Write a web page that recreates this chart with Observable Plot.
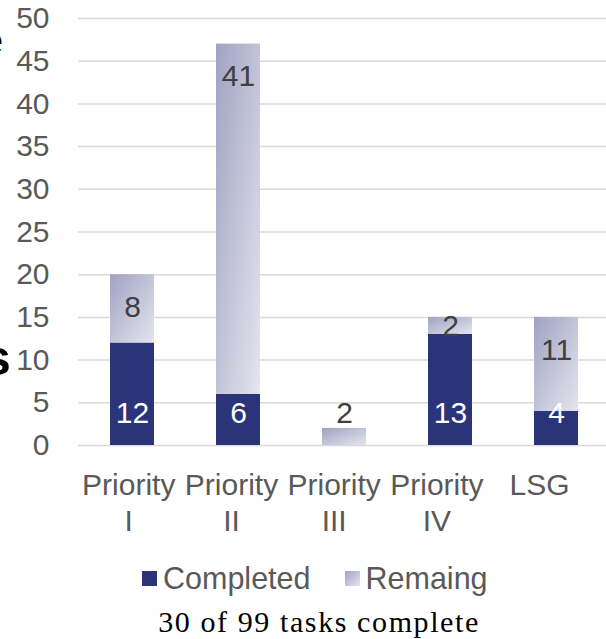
<!DOCTYPE html>
<html><head><meta charset="utf-8">
<script src="https://cdn.jsdelivr.net/npm/d3@7"></script>
<script src="https://cdn.jsdelivr.net/npm/@observablehq/plot@0.6"></script>
<style>
body{margin:0;background:#fff;width:606px;height:639px;overflow:hidden;position:relative;font-family:"Liberation Sans",Arial,sans-serif;}
#chart{position:absolute;left:0;top:0;}
.legend{position:absolute;top:561px;left:142px;display:flex;align-items:center;font-size:30.5px;line-height:34px;color:#595959;white-space:nowrap;}
.sw{width:15px;height:15px;display:inline-block;margin-right:6px;}
.caption{position:absolute;top:604px;left:0;width:638px;text-align:center;font-family:"Liberation Serif","Times New Roman",serif;font-size:30px;line-height:36px;letter-spacing:1.6px;color:#000;white-space:nowrap;}
.clip{position:absolute;color:#000;line-height:1;}
</style></head>
<body>
<div id="chart"></div>
<span class="clip" style="font-size:38px;left:-18px;top:22px;">e</span>
<span class="clip" style="font-size:50px;font-weight:bold;left:-17px;top:333px;">s</span>
<div class="legend">
  <span class="sw" style="background:#2B3478"></span><span>Completed</span>
  <span class="sw" style="margin-left:34px;background:linear-gradient(135deg,#A0A2C3,#E4E5ED)"></span><span>Remaing</span>
</div>
<div class="caption">30 of 99 tasks complete</div>
<script>
const categories = ["Priority I", "Priority II", "Priority III", "Priority IV", "LSG"];
const completed = [12, 6, 0, 13, 4];
const remaining = [8, 41, 2, 2, 11];
const yTicks = [0, 5, 10, 15, 20, 25, 30, 35, 40, 45, 50];
const seriesNames = ["Completed", "Remaing"];

const W = 606, H = 540, mT = 18, mB = 95, mL = 78;
const unitsPerPx = 50 / (H - mT - mB);
const halfBox = 32.5 * unitsPerPx;
const labelSqueeze = 0.969, labelOrigin = 11;

const compRows = categories.map((c, i) => ({cat: c, y1: 0, y2: completed[i], v: completed[i]}));
const remRows = categories.map((c, i) => ({cat: c, y1: completed[i], y2: completed[i] + remaining[i], v: remaining[i]}));
const compLabels = compRows.filter(d => d.v > 0).map(d => ({cat: d.cat, v: d.v, y: halfBox}));
const remLabels = remRows.filter(d => d.v > 0).map(d => {
  const y = d.v >= 2 * halfBox ? d.y2 - halfBox : Math.max((d.y1 + d.y2) / 2, halfBox);
  return {cat: d.cat, v: d.v, y};
});

const svg = Plot.plot({
  width: W, height: H,
  marginTop: mT, marginBottom: mB, marginLeft: mL, marginRight: 0,
  style: {fontFamily: "'Liberation Sans', Arial, sans-serif", color: "#595959", background: "#fff", overflow: "visible"},
  x: {domain: categories, range: [78, 610], paddingInner: 0.586, paddingOuter: 0.293, axis: null},
  y: {domain: [0, 50]},
  marks: [
    Plot.ruleY(yTicks, {stroke: "#D9D9D9", strokeWidth: 1.5}),
    Plot.barY(compRows, {x: "cat", y1: "y1", y2: "y2", fill: "#2B3478"}),
    Plot.barY(remRows, {x: "cat", y1: "y1", y2: "y2", fill: "url(#remGrad)"}),
    Plot.text(compLabels, {x: "cat", y: "y", text: d => String(d.v), fill: "#fff", fontSize: 30}),
    Plot.text(remLabels, {x: "cat", y: "y", text: d => String(d.v), fill: "#404040", fontSize: 30}),
    Plot.axisY({ticks: yTicks, tickSize: 0, tickPadding: 29, fontSize: 30, fill: "#595959", label: null}),
    Plot.text(categories, {
      x: d => d, y: 0, text: d => d.replace(" ", "\n"), lineAnchor: "top", dy: 24,
      fontSize: 30, lineHeight: 1.2, fill: "#595959",
      render(index, scales, values, dims, ctx, next) {
        const sx = scales.x;
        const bw = sx && typeof sx.bandwidth === "function" ? sx.bandwidth() : 0;
        const X = Float64Array.from(values.x, v => {
          const c = v + bw / 2;
          return labelOrigin + (c - labelOrigin) * labelSqueeze - bw / 2;
        });
        return next(index, scales, {...values, x: X}, dims, ctx);
      }
    })
  ]
});
const ns = "http://www.w3.org/2000/svg";
const defs = document.createElementNS(ns, "defs");
defs.innerHTML = '<linearGradient id="remGrad" x1="0" y1="0" x2="1" y2="1"><stop offset="0" stop-color="#A0A2C3"/><stop offset="1" stop-color="#E4E5ED"/></linearGradient>';
svg.insertBefore(defs, svg.firstChild);
document.getElementById("chart").appendChild(svg);
</script>
</body></html>
